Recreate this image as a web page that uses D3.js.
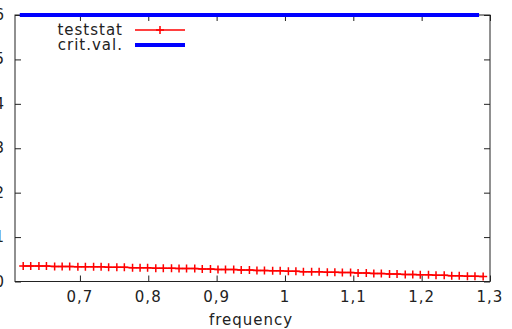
<!DOCTYPE html>
<html>
<head>
<meta charset="utf-8">
<script src="https://cdn.jsdelivr.net/npm/d3@7"></script>
<style>
  body { margin: 0; background: #fff; }
  svg text { font-family: "DejaVu Sans", sans-serif; fill: #222; }
</style>
</head>
<body>
<svg id="chart" width="512" height="329"></svg>
<script>
// frequencies of the test statistic
var freq = [0.617,0.628,0.640,0.651,0.663,0.674,0.685,0.697,0.708,0.720,
            0.731,0.742,0.754,0.765,0.777,0.788,0.799,0.811,0.822,0.834,
            0.845,0.856,0.868,0.879,0.891,0.902,0.913,0.925,0.936,0.948,
            0.959,0.970,0.982,0.993,1.005,1.016,1.027,1.039,1.050,1.062,
            1.073,1.084,1.096,1.107,1.119,1.130,1.141,1.153,1.164,1.176,
            1.187,1.198,1.210,1.221,1.233,1.244,1.255,1.267,1.278,1.290];
var teststat = [0.35,0.35,0.35,0.35,0.34,0.34,0.34,0.33,0.33,0.33,
                0.33,0.32,0.32,0.32,0.31,0.31,0.31,0.30,0.30,0.30,
                0.29,0.29,0.29,0.28,0.28,0.27,0.27,0.27,0.26,0.26,
                0.25,0.25,0.24,0.24,0.23,0.23,0.22,0.22,0.22,0.21,
                0.21,0.20,0.20,0.19,0.19,0.18,0.18,0.17,0.17,0.16,
                0.16,0.15,0.15,0.14,0.14,0.13,0.13,0.12,0.12,0.11];
var critFreq = [0.612, 1.284];
var critVal = [6, 6];
var xTicks = [0.7, 0.8, 0.9, 1.0, 1.1, 1.2, 1.3];
var yTicks = [0, 1, 2, 3, 4, 5, 6];

var pLeft = 15, pRight = 490, pTop = 15, pBottom = 281.5;
var svg = d3.select("#chart");

var x = d3.scaleLinear().domain([0.605, 1.3]).range([pLeft, pRight]);
var y = d3.scaleLinear().domain([0, 6]).range([pBottom, pTop]);

var fmt = function(d){ return String(d).replace(".", ","); };

// axes (ticks inward, mirrored on the opposite side)
svg.append("g").attr("transform", "translate(0," + pBottom + ")")
    .call(d3.axisTop(x).tickValues(xTicks).tickSize(6).tickFormat(""));
svg.append("g").attr("transform", "translate(0," + pTop + ")")
    .call(d3.axisBottom(x).tickValues(xTicks).tickSize(6).tickFormat(""));
svg.append("g").attr("transform", "translate(" + pLeft + ",0)")
    .call(d3.axisRight(y).tickValues(yTicks).tickSize(6).tickFormat(""));
svg.append("g").attr("transform", "translate(" + pRight + ",0)")
    .call(d3.axisLeft(y).tickValues(yTicks).tickSize(6).tickFormat(""));
svg.selectAll(".domain").remove();
svg.selectAll(".tick line").attr("stroke", "#222");

svg.append("rect")
    .attr("x", pLeft).attr("y", pTop)
    .attr("width", pRight - pLeft).attr("height", pBottom - pTop)
    .attr("fill", "none").attr("stroke", "#222").attr("stroke-width", 1);

// tick labels
svg.selectAll(".xlab").data(xTicks).enter().append("text")
    .attr("x", function(d){ return x(d); })
    .attr("y", 302)
    .attr("text-anchor", "middle")
    .attr("font-size", 15)
    .attr("letter-spacing", 1)
    .text(fmt);
svg.selectAll(".ylab").data(yTicks).enter().append("text")
    .attr("x", 4)
    .attr("y", function(d){ return y(d) + 5; })
    .attr("text-anchor", "end")
    .attr("font-size", 15)
    .text(fmt);

svg.append("text")
    .attr("x", 251).attr("y", 325)
    .attr("text-anchor", "middle")
    .attr("font-size", 15)
    .attr("letter-spacing", 1)
    .text("frequency");

// crit.val. line
var line = d3.line().x(function(d){ return x(d[0]); }).y(function(d){ return y(d[1]); });
svg.append("path")
    .datum(d3.zip(critFreq, critVal))
    .attr("d", line)
    .attr("fill", "none").attr("stroke", "#0000ff").attr("stroke-width", 4);

// teststat line with + markers
var pts = d3.zip(freq, teststat);
svg.append("path")
    .datum(pts)
    .attr("d", line)
    .attr("fill", "none").attr("stroke", "#ff0000").attr("stroke-width", 1.5);
svg.selectAll(".mk").data(pts).enter().append("path")
    .attr("d", function(d){
        var cx = x(d[0]), cy = y(d[1]);
        return "M" + (cx - 4) + "," + cy + "H" + (cx + 4) + "M" + cx + "," + (cy - 4) + "V" + (cy + 4);
    })
    .attr("stroke", "#ff0000").attr("stroke-width", 1.5);

// legend
var legend = [["teststat", "#ff0000", 1.5, true], ["crit.val.", "#0000ff", 4, false]];
legend.forEach(function(item, i){
    var ly = 30 + i * 15;
    svg.append("text")
        .attr("x", 123).attr("y", ly + 5)
        .attr("text-anchor", "end")
        .attr("font-size", 15)
        .attr("letter-spacing", 1)
        .text(item[0]);
    svg.append("line")
        .attr("x1", 135).attr("x2", 185).attr("y1", ly).attr("y2", ly)
        .attr("stroke", item[1]).attr("stroke-width", item[2]);
    if (item[3]) {
        svg.append("path")
            .attr("d", "M156," + ly + "H164M160," + (ly - 4) + "V" + (ly + 4))
            .attr("stroke", item[1]).attr("stroke-width", 1.5);
    }
});
</script>
</body>
</html>
